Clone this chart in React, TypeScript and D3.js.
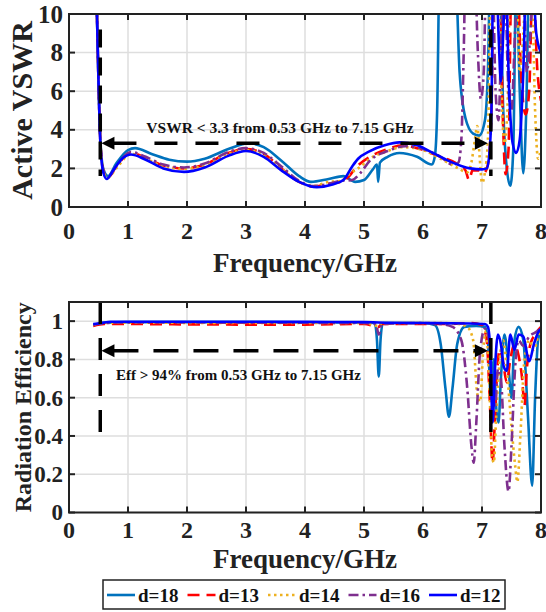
import React from 'react';
import * as d3 from 'd3';

const FONT = '"Liberation Serif", "Times New Roman", Times, serif';

// ---------- ticks / labels ----------
const xTicks = [0, 1, 2, 3, 4, 5, 6, 7, 8];
const vswrTicks = [0, 2, 4, 6, 8, 10];
const effTicks = [0, 0.2, 0.4, 0.6, 0.8, 1];
const effTickLabels = ['0', '0.2', '0.4', '0.6', '0.8', '1'];

// ---------- series ----------
const seriesNames = ['d=18', 'd=13', 'd=14', 'd=16', 'd=12'];
const seriesColors = ['#0072BD', '#FF0000', '#EDB120', '#7E2F8E', '#0000FF'];
const seriesDash: (string | null)[] = [null, '12,7', '2.5,3.5', '10,4,2.5,4', null];

// Active VSWR [GHz, VSWR]
const vswrD18: [number, number][] = [
  [0.42, 16], [0.47, 10.5], [0.5, 6.5], [0.53, 3.6], [0.58, 2.0], [0.66, 1.6], [0.8, 2.25], [1.0, 2.95], [1.12, 3.05],
  [1.4, 2.75], [1.7, 2.45], [2.0, 2.35], [2.3, 2.5], [2.7, 3.0], [3.05, 3.3], [3.3, 3.1], [3.6, 2.4], [3.9, 1.6],
  [4.1, 1.3], [4.4, 1.45], [4.65, 1.6], [4.85, 1.3], [5.0, 1.4], [5.15, 1.95], [5.22, 2.2], [5.24, 1.3], [5.27, 2.3],
  [5.4, 2.6], [5.6, 2.8], [5.9, 2.6], [6.15, 2.2], [6.2, 2.6], [6.24, 5], [6.28, 12], [6.55, 12], [6.62, 7],
  [6.72, 4.6], [6.85, 3.8], [6.95, 3.7], [7.05, 4.5], [7.1, 7], [7.14, 12], [7.3, 12], [7.36, 5], [7.42, 2.0],
  [7.48, 1.1], [7.53, 3], [7.58, 12], [7.64, 6], [7.7, 1.75], [7.75, 5], [7.8, 12], [8, 12],
];
const vswrD13: [number, number][] = [
  [0.42, 16], [0.47, 10.5], [0.5, 6.5], [0.53, 3.5], [0.58, 1.9], [0.65, 1.5], [0.8, 2.1], [1.05, 2.8], [1.3, 2.55],
  [1.6, 2.15], [1.95, 2.0], [2.3, 2.2], [2.7, 2.8], [3.0, 3.0], [3.3, 2.75], [3.6, 2.0], [3.9, 1.3], [4.15, 1.05],
  [4.4, 1.2], [4.6, 1.3], [4.75, 1.6], [4.85, 2.0], [5.1, 2.6], [5.4, 3.0], [5.65, 3.2], [5.95, 3.0], [6.3, 2.6],
  [6.6, 2.2], [6.72, 1.9], [6.78, 1.4], [6.84, 1.9], [6.95, 1.9], [7.03, 1.75], [7.1, 2.2], [7.16, 5], [7.2, 12],
  [7.3, 12], [7.35, 5], [7.4, 1.7], [7.45, 3], [7.5, 12], [7.6, 12], [7.66, 7], [7.74, 4.8], [7.8, 6], [7.86, 12],
  [7.94, 7], [8, 5.5],
];
const vswrD14: [number, number][] = [
  [0.42, 16], [0.47, 10.5], [0.5, 6.5], [0.53, 3.5], [0.58, 1.9], [0.65, 1.5], [0.8, 2.0], [1.05, 2.75], [1.3, 2.5],
  [1.6, 2.1], [1.95, 1.98], [2.3, 2.15], [2.7, 2.75], [3.0, 2.95], [3.3, 2.7], [3.6, 2.0], [3.9, 1.3], [4.15, 1.1],
  [4.4, 1.3], [4.6, 1.35], [4.75, 1.7], [4.9, 2.0], [5.1, 2.5], [5.4, 2.9], [5.65, 3.1], [5.95, 3.0], [6.3, 2.5],
  [6.6, 2.0], [6.75, 1.8], [6.82, 2.3], [6.88, 3.5], [6.92, 4.2], [6.96, 2.6], [7.0, 1.25], [7.05, 1.8], [7.1, 3.5],
  [7.15, 12], [7.28, 12], [7.33, 6], [7.38, 3.3], [7.43, 5], [7.48, 12], [7.58, 12], [7.64, 7], [7.7, 9], [7.76, 12],
  [7.84, 12], [7.9, 5], [7.95, 2.5], [8, 3],
];
const vswrD16: [number, number][] = [
  [0.42, 16], [0.47, 10.5], [0.5, 6.5], [0.53, 3.5], [0.58, 1.9], [0.65, 1.5], [0.8, 2.1], [1.05, 2.85], [1.3, 2.6],
  [1.6, 2.2], [1.95, 2.05], [2.3, 2.25], [2.7, 2.85], [3.0, 3.05], [3.3, 2.8], [3.6, 2.1], [3.9, 1.35], [4.15, 1.08],
  [4.4, 1.2], [4.6, 1.35], [4.8, 1.4], [4.95, 1.8], [5.1, 2.4], [5.4, 2.9], [5.7, 3.15], [6.0, 3.0], [6.3, 2.6],
  [6.5, 2.2], [6.6, 2.3], [6.65, 3.5], [6.69, 8], [6.72, 12], [6.88, 12], [6.93, 8], [6.98, 5.6], [7.03, 7],
  [7.07, 12], [7.18, 12], [7.23, 6], [7.28, 4.5], [7.33, 9], [7.38, 12], [7.45, 6], [7.5, 5], [7.56, 9], [7.62, 12],
  [7.7, 12], [7.76, 7], [7.82, 9], [7.88, 12], [8, 12],
];
const vswrD12: [number, number][] = [
  [0.42, 16], [0.47, 10.5], [0.5, 6.5], [0.53, 3.4], [0.58, 1.8], [0.64, 1.45], [0.75, 1.9], [0.9, 2.5], [1.05, 2.72],
  [1.3, 2.45], [1.6, 2.0], [1.95, 1.82], [2.3, 2.05], [2.7, 2.65], [3.0, 2.9], [3.3, 2.6], [3.6, 1.9], [3.9, 1.3],
  [4.2, 1.02], [4.45, 1.15], [4.65, 1.4], [4.8, 2.1], [4.9, 2.5], [5.1, 2.9], [5.35, 3.2], [5.6, 3.35], [5.9, 3.2],
  [6.2, 2.75], [6.5, 2.3], [6.8, 2.0], [7.0, 1.95], [7.08, 2.0], [7.12, 2.6], [7.16, 5], [7.19, 12], [7.24, 12],
  [7.28, 9], [7.32, 6.5], [7.36, 9], [7.4, 12], [7.46, 6], [7.52, 3.3], [7.58, 2.8], [7.64, 3.5], [7.7, 7], [7.75, 12],
  [7.85, 12], [7.92, 9], [8, 8],
];

// Radiation efficiency [GHz, efficiency]
const effD18: [number, number][] = [
  [0.41, 0.98], [0.5, 0.985], [0.6, 0.992], [1, 0.995], [2, 0.995], [3, 0.995], [4, 0.994], [5, 0.993], [5.18, 0.99],
  [5.22, 0.9], [5.25, 0.71], [5.28, 0.9], [5.32, 0.99], [6.0, 0.99], [6.2, 0.98], [6.3, 0.88], [6.38, 0.65],
  [6.44, 0.5], [6.5, 0.65], [6.58, 0.88], [6.7, 0.97], [6.9, 0.975], [7.05, 0.97], [7.1, 0.9], [7.15, 0.6],
  [7.2, 0.8], [7.24, 0.55], [7.28, 0.47], [7.32, 0.7], [7.38, 0.93], [7.45, 0.75], [7.5, 0.6], [7.55, 0.9],
  [7.62, 0.97], [7.7, 0.9], [7.78, 0.5], [7.85, 0.14], [7.9, 0.6], [7.95, 0.9], [8, 0.95],
];
const effD13: [number, number][] = [
  [0.41, 0.975], [0.6, 0.985], [1, 0.985], [2, 0.983], [3, 0.982], [4, 0.982], [5, 0.985], [5.25, 0.97], [5.3, 0.985],
  [6, 0.985], [6.5, 0.985], [6.8, 0.99], [7.0, 0.98], [7.08, 0.9], [7.13, 0.6], [7.18, 0.26], [7.22, 0.5],
  [7.26, 0.75], [7.3, 0.85], [7.35, 0.8], [7.42, 0.68], [7.48, 0.8], [7.55, 0.88], [7.62, 0.82], [7.68, 0.7],
  [7.72, 0.56], [7.76, 0.75], [7.82, 0.88], [7.9, 0.93], [8, 0.97],
];
const effD14: [number, number][] = [
  [0.41, 0.98], [0.6, 0.99], [1, 0.992], [3, 0.99], [5, 0.99], [5.25, 0.975], [5.3, 0.99], [6.3, 0.99], [6.6, 0.985],
  [6.75, 0.97], [6.85, 0.9], [6.92, 0.62], [6.97, 0.58], [7.02, 0.85], [7.07, 0.95], [7.12, 0.7], [7.17, 0.3],
  [7.2, 0.26], [7.24, 0.5], [7.3, 0.8], [7.36, 0.9], [7.42, 0.75], [7.5, 0.45], [7.56, 0.25], [7.6, 0.16],
  [7.65, 0.4], [7.72, 0.8], [7.8, 0.9], [7.88, 0.85], [7.95, 0.92], [8, 0.96],
];
const effD16: [number, number][] = [
  [0.41, 0.98], [0.6, 0.99], [1, 0.993], [3, 0.992], [5, 0.99], [5.2, 0.985], [5.25, 0.93], [5.3, 0.985], [6, 0.99],
  [6.3, 0.985], [6.5, 0.97], [6.65, 0.9], [6.75, 0.65], [6.82, 0.35], [6.86, 0.26], [6.9, 0.45], [6.97, 0.85],
  [7.05, 0.96], [7.12, 0.9], [7.18, 0.65], [7.22, 0.55], [7.27, 0.75], [7.32, 0.7], [7.38, 0.35], [7.45, 0.11],
  [7.5, 0.35], [7.56, 0.75], [7.62, 0.9], [7.7, 0.87], [7.8, 0.92], [7.9, 0.94], [8, 0.96],
];
const effD12: [number, number][] = [
  [0.41, 0.985], [0.55, 0.99], [0.7, 0.997], [2, 0.997], [4, 0.996], [5, 0.995], [5.25, 0.993], [6, 0.99],
  [6.8, 0.988], [7.05, 0.985], [7.1, 0.97], [7.14, 0.85], [7.18, 0.47], [7.22, 0.75], [7.27, 0.93], [7.32, 0.88],
  [7.37, 0.76], [7.42, 0.74], [7.48, 0.93], [7.55, 0.85], [7.62, 0.93], [7.7, 0.92], [7.8, 0.79], [7.88, 0.88],
  [7.95, 0.94], [8, 0.96],
];

const vswrSeries = [vswrD18, vswrD13, vswrD14, vswrD16, vswrD12];
const effSeries = [effD18, effD13, effD14, effD16, effD12];

// annotation values
const bandLow = 0.53;
const bandHigh = 7.15;
const vswrLimit = 3.3;
const effArrowLevel = 0.845;
const vswrText = 'VSWR < 3.3 from 0.53 GHz to 7.15 GHz';
const effText = 'Eff > 94% from 0.53 GHz to 7.15 GHz';

// ---------- layout ----------
const W = 546;
const H = 612;
const X0 = 69;
const X1 = 541;

const xScale = d3.scaleLinear().domain([0, 8]).range([X0, X1]);
const yTop = d3.scaleLinear().domain([0, 10]).range([207, 14]);
const yBot = d3.scaleLinear().domain([0, 1.1]).range([512.5, 302]);

const AX = '#222';

function Arrow({ x1, x2, y, dash }: { x1: number; x2: number; y: number; dash: string }) {
  const L = 13;
  const hw = 6.5;
  return (
    <g>
      <line x1={x1 + L - 1} x2={x2 - L + 1} y1={y} y2={y} stroke="#000" strokeWidth={3.5} strokeDasharray={dash} />
      <path d={`M${x1},${y}L${x1 + L},${y - hw}L${x1 + L},${y + hw}Z`} fill="#000" />
      <path d={`M${x2},${y}L${x2 - L},${y - hw}L${x2 - L},${y + hw}Z`} fill="#000" />
    </g>
  );
}

function Panel({
  id, y, ticks, tickLabels, series, title, titleSize, titleX, tickSize, xLabelY, xTitleY,
  children,
}: {
  id: string;
  y: d3.ScaleLinear<number, number>;
  ticks: number[];
  tickLabels: string[];
  series: [number, number][][];
  title: string;
  titleSize: number;
  titleX: number;
  tickSize: number;
  xLabelY: number;
  xTitleY: number;
  children?: React.ReactNode;
}) {
  const [yb, yt] = y.range();
  const line = d3
    .line<[number, number]>()
    .x((d) => xScale(d[0]))
    .y((d) => y(d[1]))
    .curve(d3.curveMonotoneX);
  const midY = (yb + yt) / 2;
  return (
    <g>
      <defs>
        <clipPath id={id}>
          <rect x={X0} y={yt} width={X1 - X0} height={yb - yt} />
        </clipPath>
      </defs>
      <rect x={X0} y={yt} width={X1 - X0} height={yb - yt} fill="#fff" />
      {/* grid */}
      {xTicks.slice(1, -1).map((t) => (
        <line key={'gx' + t} x1={xScale(t)} x2={xScale(t)} y1={yt} y2={yb} stroke="#dedede" strokeWidth={1.5} />
      ))}
      {ticks.map((t) => (
        <line key={'gy' + t} x1={X0} x2={X1} y1={y(t)} y2={y(t)} stroke="#dedede" strokeWidth={1.5} />
      ))}
      {/* data */}
      <g clipPath={`url(#${id})`}>
        {series.map((s, i) => (
          <path
            key={i}
            d={line(s) || ''}
            fill="none"
            stroke={seriesColors[i]}
            strokeWidth={2.6}
            strokeDasharray={seriesDash[i] || undefined}
            strokeLinejoin="round"
          />
        ))}
        {children}
      </g>
      {/* frame */}
      <rect x={X0} y={yt} width={X1 - X0} height={yb - yt} fill="none" stroke={AX} strokeWidth={2} />
      {/* ticks */}
      {xTicks.slice(1, -1).map((t) => (
        <g key={'tx' + t}>
          <line x1={xScale(t)} x2={xScale(t)} y1={yb} y2={yb - 6} stroke={AX} strokeWidth={2} />
          <line x1={xScale(t)} x2={xScale(t)} y1={yt} y2={yt + 6} stroke={AX} strokeWidth={2} />
        </g>
      ))}
      {ticks.map((t) => (
        <g key={'ty' + t}>
          <line x1={X0} x2={X0 + 6} y1={y(t)} y2={y(t)} stroke={AX} strokeWidth={2} />
          <line x1={X1} x2={X1 - 6} y1={y(t)} y2={y(t)} stroke={AX} strokeWidth={2} />
        </g>
      ))}
      {/* tick labels */}
      {xTicks.map((t) => (
        <text key={'lx' + t} x={xScale(t)} y={xLabelY} textAnchor="middle" fontFamily={FONT} fontWeight="bold"
          fontSize={24} fill={AX}>
          {String(t)}
        </text>
      ))}
      {ticks.map((t, i) => (
        <text key={'ly' + t} x={X0 - 6} y={y(t)} dy="0.34em" textAnchor="end" fontFamily={FONT} fontWeight="bold"
          fontSize={tickSize} fill={AX}>
          {tickLabels[i]}
        </text>
      ))}
      <text x={(X0 + X1) / 2} y={xTitleY} textAnchor="middle" fontFamily={FONT} fontWeight="bold" fontSize={27}
        fill={AX}>
        Frequency/GHz
      </text>
      <text transform={`translate(${titleX},${midY}) rotate(-90)`} textAnchor="middle" fontFamily={FONT}
        fontWeight="bold" fontSize={titleSize} fill={AX}>
        {title}
      </text>
    </g>
  );
}

export default function App() {
  const xl = xScale(bandLow);
  const xh = xScale(bandHigh);
  return (
    <svg width={W} height={H} style={{ position: 'absolute', left: 0, top: 0, background: '#fff' }}>
      <rect width={W} height={H} fill="#fff" />
      <Panel id="clipTop" y={yTop} ticks={vswrTicks} tickLabels={vswrTicks.map(String)} series={vswrSeries}
        title="Active VSWR" titleSize={30} titleX={32} tickSize={25} xLabelY={239} xTitleY={272}>
        <line x1={xl} x2={xl} y1={yTop(9.2)} y2={yTop(1.6)} stroke="#000" strokeWidth={3.5} strokeDasharray="18,10" />
        <line x1={xh} x2={xh} y1={yTop(9.2)} y2={yTop(1.6)} stroke="#000" strokeWidth={3.5} strokeDasharray="18,10" />
        <Arrow x1={xScale(0.55)} x2={xScale(7.1)} y={yTop(vswrLimit)} dash="23,18" />
      </Panel>
      <text x={280} y={133} textAnchor="middle" fontFamily={FONT} fontWeight="bold" fontSize={15.5} fill="#111">
        {vswrText}
      </text>
      <Panel id="clipBot" y={yBot} ticks={effTicks} tickLabels={effTickLabels} series={effSeries}
        title="Radiation Efficiency" titleSize={24} titleX={31} tickSize={23} xLabelY={538} xTitleY={568}>
        <line x1={xl} x2={xl} y1={yBot(1.1)} y2={yBot(0.35)} stroke="#000" strokeWidth={3.5} strokeDasharray="22,14" />
        <line x1={xh} x2={xh} y1={yBot(1.1)} y2={yBot(0.38)} stroke="#000" strokeWidth={3.5} strokeDasharray="22,14" />
        <Arrow x1={xScale(0.55)} x2={xScale(7.1)} y={yBot(effArrowLevel)} dash="25,15" />
      </Panel>
      <text x={116} y={380} textAnchor="start" fontFamily={FONT} fontWeight="bold" fontSize={15} fill="#111">
        {effText}
      </text>
      {/* legend */}
      <g>
        <rect x={103} y={580} width={402} height={29} fill="#fff" stroke="#222" strokeWidth={1.5} />
        {seriesNames.map((n, i) => {
          const lx = 107 + i * 80.5;
          return (
            <g key={n}>
              <line x1={lx} x2={lx + 28} y1={595} y2={595} stroke={seriesColors[i]} strokeWidth={2.6}
                strokeDasharray={seriesDash[i] || undefined} />
              <text x={lx + 31} y={601.5} fontFamily={FONT} fontWeight="bold" fontSize={19} fill="#111">
                {n}
              </text>
            </g>
          );
        })}
      </g>
    </svg>
  );
}
